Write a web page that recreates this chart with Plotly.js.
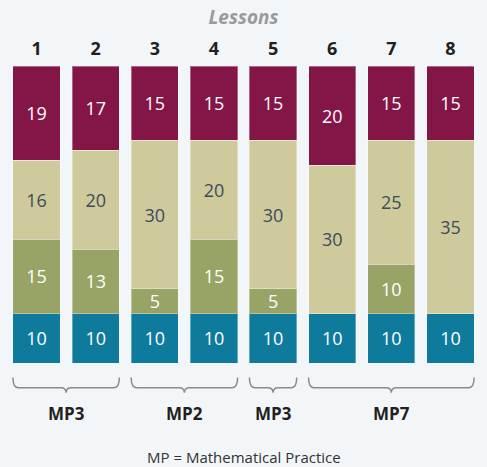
<!DOCTYPE html>
<html>
<head>
<meta charset="utf-8">
<script src="https://cdn.plot.ly/plotly-3.0.1.min.js"></script>
<style>html,body{margin:0;padding:0;background:#f2f6f9;}#chart{width:487px;height:467px;}</style>
</head>
<body>
<div id="chart"></div>
<script>
// Data
const lessons = ['1', '2', '3', '4', '5', '6', '7', '8'];
const tealVals   = [10, 10, 10, 10, 10, 10, 10, 10];
const greenVals  = [15, 13, 5, 15, 5, 0, 10, 0];
const beigeVals  = [16, 20, 30, 20, 30, 30, 25, 35];
const maroonVals = [19, 17, 15, 15, 15, 20, 15, 15];
const groupLabels = ['MP3', 'MP2', 'MP3', 'MP7'];
const groupFirst  = [0, 2, 4, 5];
const groupLast   = [1, 3, 4, 7];

const FONT = '"Open Sans", "Noto Sans", sans-serif';
const BG = '#f2f6f9';

function seg(name, vals, color, txtColor) {
  return {
    type: 'bar', name: name, x: lessons, y: vals,
    marker: {color: color, line: {color: 'rgba(255,255,255,0.35)', width: 1}},
    text: vals.map(v => v > 0 ? String(v) : ''),
    textposition: 'inside', insidetextanchor: 'middle', textangle: 0,
    constraintext: 'none',
    textfont: {family: FONT, size: 18, color: txtColor},
    hoverinfo: 'x+y'
  };
}

const data = [
  seg('Teal', tealVals, '#0e7a9c', '#ffffff'),
  seg('Green', greenVals, '#97a466', '#ffffff'),
  seg('Beige', beigeVals, '#cfca9b', '#3d4b5e'),
  seg('Maroon', maroonVals, '#841547', '#ffffff')
];

const shapes = [];
const annotations = [];
const yTop = -0.049, yMid = -0.083, yBot = -0.1, r = 0.09, hw = 0.4;
groupLabels.forEach((lab, i) => {
  const x0 = groupFirst[i] - hw, x1 = groupLast[i] + hw, xc = (groupFirst[i] + groupLast[i]) / 2;
  const path = `M ${x0},${yTop} Q ${x0},${yMid} ${x0 + r},${yMid} L ${xc - r},${yMid} Q ${xc},${yMid} ${xc},${yBot} Q ${xc},${yMid} ${xc + r},${yMid} L ${x1 - r},${yMid} Q ${x1},${yMid} ${x1},${yTop}`;
  shapes.push({type: 'path', xref: 'x', yref: 'paper', path: path, line: {color: '#8a8a8a', width: 1.5}});
  annotations.push({xref: 'x', yref: 'paper', x: xc, y: -0.17, text: '<b>' + lab + '</b>', showarrow: false,
    font: {family: FONT, size: 17, color: '#231f20'}, yanchor: 'middle'});
});
annotations.push({xref: 'paper', yref: 'paper', x: 0.5, y: -0.318, text: 'MP = Mathematical Practice', showarrow: false,
  font: {family: FONT, size: 15, color: '#333333'}, yanchor: 'middle'});

const layout = {
  width: 487, height: 467,
  paper_bgcolor: BG, plot_bgcolor: BG,
  margin: {l: 7, r: 7, t: 66, b: 104},
  barmode: 'stack', bargap: 0.2,
  showlegend: false,
  title: {text: '<b><i>Lessons</i></b>', x: 0.5, xanchor: 'center', y: 0.962, yanchor: 'middle', yref: 'container',
    font: {family: FONT, size: 19, color: '#9a9a9a'}},
  xaxis: {side: 'top', type: 'category', showgrid: false, zeroline: false, showline: false, ticks: '',
    tickfont: {family: FONT, size: 18, color: '#231f20', weight: 'bold'}, ticklabelstandoff: 6, fixedrange: true},
  yaxis: {range: [0, 60], visible: false, fixedrange: true},
  shapes: shapes, annotations: annotations,
  font: {family: FONT}
};

Plotly.newPlot('chart', data, layout, {displayModeBar: false, staticPlot: true});
</script>
</body>
</html>
